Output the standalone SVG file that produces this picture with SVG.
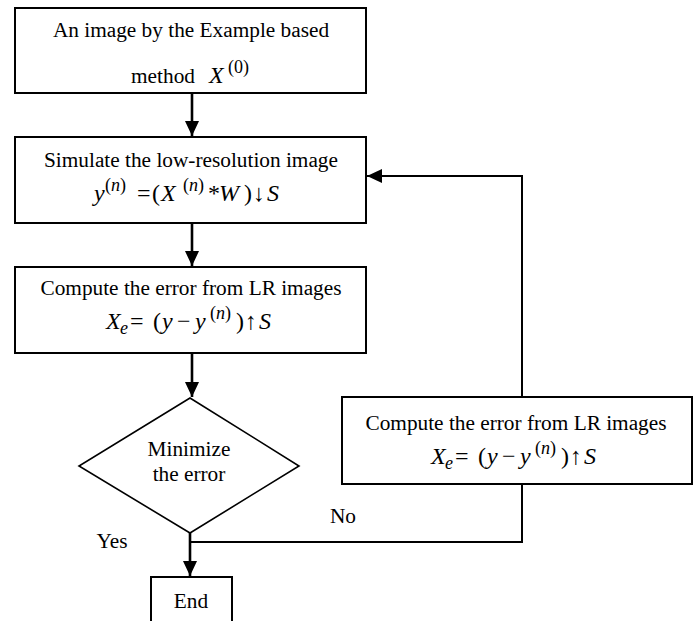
<svg xmlns="http://www.w3.org/2000/svg" width="695" height="621" viewBox="0 0 695 621" font-family="Liberation Serif, Times New Roman, serif">
<style>
.box{fill:#fff;stroke:#000;stroke-width:2}
.t{font-size:21.3px;fill:#000;text-anchor:middle}
.f{font-size:24px;fill:#000;text-anchor:start}
.i{font-style:italic}
.s{font-size:18px}
.c{fill:none;stroke:#000;stroke-width:2.6}
.c2{fill:none;stroke:#000;stroke-width:2}
</style>
<defs>
<marker id="ah" markerUnits="userSpaceOnUse" markerWidth="16" markerHeight="16" refX="15" refY="7" orient="auto">
<path d="M0,0 L15,7 L0,14 Z" fill="#000"/>
</marker>
</defs>
<g id="connectors">
<line class="c" x1="192" y1="93" x2="192" y2="136" marker-end="url(#ah)"/>
<line class="c" x1="192" y1="223" x2="192" y2="266" marker-end="url(#ah)"/>
<line class="c" x1="192" y1="353" x2="192" y2="397" marker-end="url(#ah)"/>
<line class="c" x1="190" y1="533" x2="190" y2="576" marker-end="url(#ah)"/>
<polyline class="c2" points="190,542 522,542 522,484"/>
<polyline class="c2" points="522,397 522,176 367,176" marker-end="url(#ah)"/>
</g>
<g id="n1">
<rect class="box" x="15" y="8" width="351" height="85"/>
<text class="t" x="191" y="37">An image by the Example based</text>
<text class="t" x="163" y="83">method</text>
<text class="f" y="83"><tspan class="i" x="209">X</tspan><tspan class="s" x="228" dy="-10">(0)</tspan></text>
</g>
<g id="n2">
<rect class="box" x="15" y="137" width="351" height="86"/>
<text class="t" x="191" y="167">Simulate the low-resolution image</text>
<text class="f" y="201"><tspan class="i" x="94">y</tspan><tspan class="s" x="105" dy="-10">(<tspan class="i">n</tspan>)</tspan><tspan x="137" dy="10">=</tspan><tspan x="152">(</tspan><tspan class="i" x="161">X</tspan><tspan class="s" x="183" dy="-10">(<tspan class="i">n</tspan>)</tspan><tspan x="208" dy="10">*</tspan><tspan class="i" x="219">W</tspan><tspan x="244">)</tspan><tspan x="253">↓</tspan><tspan class="i" x="267">S</tspan></text>
</g>
<g id="n3">
<rect class="box" x="15" y="267" width="351" height="86"/>
<text class="t" x="191" y="295">Compute the error from LR images</text>
<text class="f" y="329"><tspan class="i" x="106">X</tspan><tspan class="s i" x="120" dy="5">e</tspan><tspan x="130" dy="-5">=</tspan><tspan x="153">(</tspan><tspan class="i" x="162">y</tspan><tspan x="177">−</tspan><tspan class="i" x="195">y</tspan><tspan class="s" x="210" dy="-10">(<tspan class="i">n</tspan>)</tspan><tspan x="236" dy="10">)</tspan><tspan x="245">↑</tspan><tspan class="i" x="259">S</tspan></text>
</g>
<g id="n4">
<polygon class="box" style="stroke-width:1.6" points="190,398 299,466 190,533 79,466"/>
<text class="t" x="189" y="456">Minimize</text>
<text class="t" x="189" y="481">the error</text>
</g>
<g id="n5">
<rect class="box" x="342" y="397" width="350" height="87"/>
<text class="t" x="516" y="430">Compute the error from LR images</text>
<g transform="translate(325,135)">
<text class="f" y="329"><tspan class="i" x="106">X</tspan><tspan class="s i" x="120" dy="5">e</tspan><tspan x="130" dy="-5">=</tspan><tspan x="153">(</tspan><tspan class="i" x="162">y</tspan><tspan x="177">−</tspan><tspan class="i" x="195">y</tspan><tspan class="s" x="210" dy="-10">(<tspan class="i">n</tspan>)</tspan><tspan x="236" dy="10">)</tspan><tspan x="245">↑</tspan><tspan class="i" x="259">S</tspan></text>
</g>
</g>
<g id="n6">
<rect class="box" x="151" y="577" width="81" height="50"/>
<text class="t" x="191" y="608">End</text>
</g>
<g id="labels">
<text class="t" x="112" y="548">Yes</text>
<text class="t" x="343" y="523">No</text>
</g>
</svg>
